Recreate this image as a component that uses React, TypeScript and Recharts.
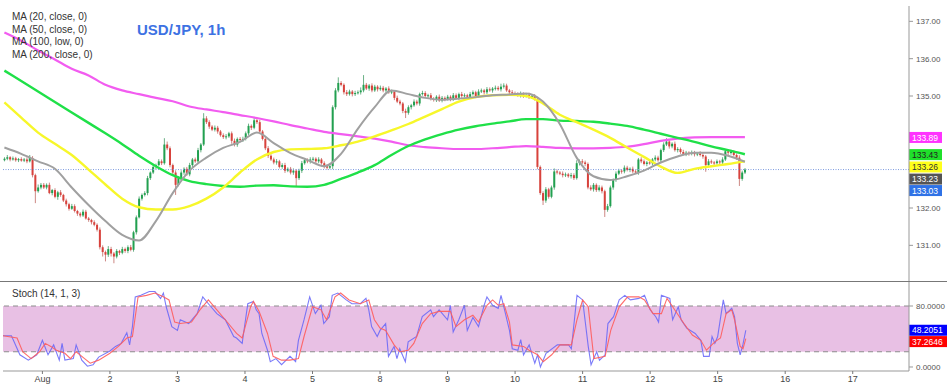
import React from "react";
import {
  ComposedChart,
  Bar,
  Line,
  XAxis,
  YAxis,
  ReferenceLine,
  ReferenceArea,
} from "recharts";

const FONT = '"Liberation Sans", Arial, sans-serif';

// hourly candles, first one starts 14h before Aug 1 00:00
const FIRST_HOUR = -14;
const LAST_HOUR = 308;
const FIRST_OPEN = 133.28;

// closes, one line per trading day (open = previous close)
const closes = [
  133.32, 133.36, 133.3, 133.33, 133.28, 133.31, 133.27, 133.3, 133.25, 133.34, 132.88, 132.45, 132.55, 132.62,
  132.55, 132.62, 132.4, 132.48, 132.3, 132.42, 132.35, 132.2, 132.1, 131.98, 132.05, 131.92, 131.85, 131.8, 131.9, 131.72, 131.68, 131.62, 131.55, 131.42, 130.95, 130.82, 130.75, 130.9,
  130.78, 130.7, 130.85, 130.8, 130.9, 130.85, 130.95, 130.88, 131.35, 131.75, 132.25, 132.35, 132.4, 132.8, 132.95, 133.1, 133.15, 133.25, 133.2, 133.7, 133.6, 133.15, 132.95, 132.62,
  132.8, 132.95, 133.05, 132.9, 133.15, 133.3, 133.25, 133.55, 133.7, 134.4, 134.3, 134.18, 134.1, 134.15, 134.05, 133.95, 133.9, 133.92, 134.0, 133.8, 133.7, 133.85, 133.82, 133.85,
  134.0, 134.2, 134.15, 134.35, 134.3, 134.05, 133.85, 133.6, 133.4, 133.3, 133.22, 133.25, 133.1, 133.15, 133.0, 133.05, 132.95, 133.0, 132.8, 133.0, 133.2, 133.28, 133.25, 133.3,
  133.32, 133.25, 133.3, 133.2, 133.12, 133.08, 133.12, 134.7, 135.15, 135.35, 135.3, 135.1, 135.05, 135.12, 135.05, 135.08, 135.1, 135.15, 135.3, 135.2, 135.28, 135.15, 135.25, 135.18,
  135.22, 135.15, 135.2, 135.1, 135.12, 134.95, 134.85, 134.8, 134.6, 134.55, 134.7, 134.75, 134.85, 134.8, 135.05, 135.08, 135.0, 135.02, 134.92, 134.9, 134.98, 134.88, 134.95, 134.92,
  134.98, 134.92, 135.02, 134.95, 135.05, 135.0, 135.02, 134.98, 135.05, 135.1, 135.0, 135.12, 135.15, 135.1, 135.18, 135.15, 135.2, 135.22, 135.18, 135.25, 135.28, 135.15, 135.1, 135.08,
  135.05, 135.02, 135.06, 135.0, 135.03, 134.98, 135.0, 134.92, 133.1, 132.4, 132.2, 132.5, 132.3, 132.55, 132.98, 132.95, 132.92, 132.88, 132.9, 132.85, 132.88, 132.8, 133.2, 133.25,
  133.22, 133.18, 132.55, 132.5, 132.62, 132.48, 132.55, 132.45, 131.95, 132.05, 132.55, 132.75, 132.92, 133.0, 132.98, 133.08, 133.02, 133.05, 132.98, 132.95, 133.3, 133.25, 133.18, 133.22,
  133.2, 133.3, 133.35, 133.28, 133.55, 133.7, 133.78, 133.65, 133.72, 133.55, 133.58, 133.5, 133.45, 133.48, 133.45, 133.48, 133.44, 133.46, 133.42, 133.38, 133.15, 133.25, 133.22, 133.2,
  133.25, 133.22, 133.3, 133.52, 133.48, 133.5, 133.42, 133.35, 132.78, 132.95, 133.03,
];

// wick lengths in pips (0.01) above / below the body
const wickUp = [
  4, 6, 3, 5, 4, 3, 5, 4, 6, 8, 5, 4, 8, 5,
  5, 4, 6, 3, 5, 4, 6, 3, 5, 4, 6, 5, 3, 4, 6, 5, 4, 3, 5, 4, 6, 5, 4, 8,
  6, 4, 5, 3, 6, 4, 5, 6, 4, 5, 6, 4, 5, 6, 3, 5, 4, 6, 5, 17, 8, 5, 4, 6,
  5, 6, 4, 5, 6, 4, 5, 6, 4, 14, 6, 5, 4, 6, 5, 4, 5, 6, 4, 5, 6, 4, 5, 6,
  5, 6, 4, 9, 5, 6, 4, 5, 6, 4, 5, 6, 4, 5, 6, 4, 5, 6, 4, 5, 6, 4, 5, 6,
  5, 4, 6, 4, 5, 4, 6, 5, 6, 15, 5, 4, 6, 5, 4, 6, 5, 8, 26, 5, 4, 6, 5, 4,
  6, 5, 4, 6, 5, 4, 6, 5, 4, 6, 5, 4, 6, 5, 4, 6, 5, 4, 6, 5, 4, 6, 5, 4,
  5, 4, 6, 5, 4, 6, 5, 4, 6, 5, 4, 6, 5, 4, 6, 5, 4, 6, 5, 8, 6, 5, 4, 6,
  4, 5, 6, 4, 5, 6, 4, 5, 6, 4, 5, 6, 4, 5, 8, 5, 4, 6, 5, 4, 6, 5, 8, 5,
  6, 5, 4, 6, 5, 4, 6, 5, 4, 6, 5, 4, 6, 5, 4, 6, 5, 4, 6, 5, 4, 6, 5, 4,
  5, 4, 6, 5, 4, 6, 9, 5, 4, 6, 5, 4, 6, 5, 4, 6, 5, 4, 6, 5, 4, 6, 5, 4,
  5, 4, 6, 5, 4, 6, 5, 4, 6, 5, 4,
];
const wickDown = [
  3, 4, 5, 3, 4, 5, 3, 4, 5, 3, 6, 32, 4, 5,
  4, 5, 3, 6, 4, 8, 5, 4, 6, 5, 3, 4, 6, 5, 4, 3, 5, 6, 4, 5, 6, 12, 18, 6,
  8, 18, 5, 6, 4, 5, 6, 4, 5, 6, 3, 5, 4, 6, 5, 4, 6, 3, 5, 4, 5, 6, 8, 27,
  4, 5, 6, 4, 5, 6, 4, 5, 6, 4, 5, 6, 4, 5, 6, 4, 5, 6, 4, 8, 5, 6, 4, 5,
  4, 5, 6, 4, 5, 6, 4, 5, 6, 4, 5, 6, 4, 5, 6, 4, 5, 6, 24, 5, 6, 4, 5, 6,
  4, 6, 5, 4, 6, 5, 4, 8, 6, 5, 4, 6, 5, 4, 6, 5, 4, 6, 5, 4, 6, 5, 4, 6,
  4, 5, 6, 4, 5, 6, 4, 5, 6, 14, 5, 6, 4, 5, 6, 4, 5, 6, 4, 5, 6, 4, 5, 6,
  4, 6, 5, 4, 6, 5, 4, 6, 5, 4, 6, 5, 4, 6, 5, 4, 6, 5, 4, 6, 5, 4, 6, 5,
  5, 4, 6, 5, 4, 6, 5, 4, 6, 5, 12, 6, 5, 4, 6, 5, 4, 6, 5, 4, 6, 5, 4, 6,
  4, 6, 5, 4, 6, 5, 4, 6, 19, 5, 4, 6, 5, 4, 6, 5, 4, 6, 5, 4, 6, 5, 4, 6,
  4, 6, 5, 4, 6, 5, 4, 6, 5, 4, 6, 5, 4, 6, 5, 4, 6, 5, 4, 6, 18, 5, 4, 6,
  4, 6, 5, 4, 6, 5, 4, 6, 19, 5, 4,
];

// moving averages read every 6 hours
const maHours = [
  -14, -8, -2, 4, 10, 16, 22, 28, 34, 40, 46, 52, 58, 64, 70, 76, 82, 88, 94, 100, 106, 112, 118,
  124, 130, 136, 142, 148, 154, 160, 166, 172, 178, 184, 190, 196, 202, 208, 214, 220, 226, 232, 238, 244, 250,
];
const ma20 = [
  133.62, 133.45, 133.25, 133.05, 132.55, 132.08, 131.65, 131.28, 131.13, 131.65,
  132.4, 133.0, 133.35, 133.61, 133.77, 134.02, 133.74, 133.47, 133.29, 133.12,
  133.45, 134.12, 134.7, 135.15, 135.05, 134.95, 134.9, 134.93, 134.97, 135.02,
  135.04, 135.07, 134.85, 134.25, 133.35, 132.85, 132.75, 132.85, 133.0, 133.22,
  133.38, 133.48, 133.48, 133.4, 133.24,
];
const ma50 = [
  134.83, 134.42, 134.02, 133.72, 133.42, 133.03, 132.63, 132.25, 132.02, 131.96,
  131.96, 132.05, 132.25, 132.55, 132.95, 133.3, 133.5, 133.57, 133.58, 133.6,
  133.68, 133.78, 133.92, 134.08, 134.25, 134.45, 134.65, 134.85, 134.97, 135.02,
  135.03, 135.0, 134.8, 134.5, 134.3, 134.1, 133.88, 133.62, 133.37, 133.11,
  132.94, 133.05, 133.12, 133.18, 133.25,
];
const ma100 = [
  135.68, 135.4, 135.12, 134.84, 134.56, 134.28, 134.0, 133.71, 133.4, 133.12,
  132.88, 132.72, 132.64, 132.59, 132.57, 132.6, 132.61, 132.58, 132.57, 132.62,
  132.78, 132.95, 133.15, 133.42, 133.66, 133.84, 133.98, 134.1, 134.19, 134.26,
  134.32, 134.38, 134.38, 134.34, 134.33, 134.31, 134.26, 134.2, 134.1, 133.99,
  133.88, 133.77, 133.65, 133.55, 133.44,
];
const ma200 = [
  136.7, 136.48, 136.22, 135.98, 135.73, 135.55, 135.3, 135.15, 135.05, 134.95,
  134.86, 134.72, 134.64, 134.57, 134.49, 134.41, 134.32, 134.22, 134.13, 134.04,
  133.98, 133.92, 133.86, 133.78, 133.68, 133.63, 133.6, 133.58, 133.58, 133.6,
  133.63, 133.66, 133.64, 133.61, 133.6, 133.6, 133.61, 133.64, 133.71, 133.8,
  133.86, 133.89, 133.9, 133.9, 133.9,
];

// stochastic (14, 1, 3): [hour, value]
const stochK: [number, number][] = [
  [-14, 41], [-11, 41], [-8, 16], [-5, 9], [-2, 16], [0, 35], [2, 16], [4, 29], [6, 9], [7, 31], [8, 9],
  [11, 11], [12, 29], [14, 9], [16, 1], [18, 3], [20, 13], [24, 21], [26, 27], [28, 31], [30, 45], [31, 29],
  [32, 53], [33, 92], [35, 94], [38, 99], [40, 99], [42, 90], [43, 97], [44, 79], [46, 53], [48, 48], [49, 62],
  [52, 57], [55, 70], [57, 92], [59, 83], [62, 70], [65, 62], [68, 40], [69, 38], [71, 31], [73, 83], [75, 86],
  [76, 75], [77, 70], [78, 44], [80, 22], [81, 7], [83, 11], [85, 3], [88, 14], [90, 7], [91, 35], [93, 62],
  [95, 92], [97, 70], [99, 81], [100, 57], [102, 66], [103, 94], [105, 97], [108, 88], [110, 83], [113, 83],
  [115, 90], [116, 75], [117, 53], [119, 40], [120, 48], [122, 57], [123, 14], [125, 27], [126, 11], [127, 24],
  [129, 7], [130, 33], [133, 40], [135, 66], [138, 75], [139, 66], [141, 75], [144, 62], [145, 81], [146, 46],
  [148, 62], [150, 81], [151, 48], [153, 65], [155, 53], [157, 81], [158, 92], [160, 81], [162, 77], [163, 94],
  [164, 79], [166, 48], [167, 24], [169, 22], [170, 36], [171, 16], [173, 29], [175, 5], [176, 16], [177, 0],
  [179, 18], [183, 29], [187, 29], [188, 24], [190, 94], [192, 88], [194, 27], [195, 3], [197, 20], [198, 9],
  [200, 16], [201, 57], [203, 66], [205, 88], [207, 94], [209, 88], [212, 90], [214, 94], [216, 75], [218, 66],
  [219, 59], [220, 94], [223, 90], [224, 62], [226, 79], [227, 62], [229, 51], [232, 44], [234, 35], [235, 14],
  [237, 14], [238, 40], [239, 31], [240, 40], [242, 88], [243, 70], [245, 77], [246, 66], [247, 31], [248, 16],
  [249, 30], [250, 48.21],
];
const stochD: [number, number][] = [
  [-14, 41], [-9, 38], [-7, 20], [-4, 11], [-1, 20], [1, 31], [3, 27], [5, 22], [8, 18], [10, 11], [12, 20],
  [15, 11], [17, 5], [20, 9], [24, 18], [27, 27], [30, 38], [32, 40], [34, 92], [37, 94], [40, 97], [43, 92],
  [45, 88], [47, 59], [49, 57], [53, 59], [56, 75], [59, 88], [62, 75], [65, 62], [69, 44], [71, 38], [74, 79],
  [75, 86], [77, 73], [80, 44], [82, 14], [85, 9], [88, 9], [91, 11], [93, 40], [96, 79], [99, 75], [101, 62],
  [104, 92], [106, 97], [109, 88], [113, 83], [116, 88], [118, 62], [120, 51], [122, 48], [125, 29], [127, 20],
  [130, 22], [132, 31], [135, 57], [138, 70], [141, 73], [145, 73], [147, 53], [150, 62], [153, 68], [155, 59],
  [158, 81], [160, 88], [162, 81], [164, 83], [166, 59], [167, 29], [171, 27], [173, 22], [176, 16], [178, 7],
  [181, 16], [184, 29], [188, 29], [190, 62], [192, 88], [194, 79], [196, 11], [200, 14], [202, 48], [205, 79],
  [208, 92], [212, 92], [214, 88], [217, 70], [220, 70], [222, 90], [224, 79], [228, 57], [231, 42], [234, 35],
  [236, 22], [239, 33], [241, 38], [243, 70], [245, 75], [246, 62], [248, 27], [249, 24], [250, 37.26],
];

const dayTicks = [0, 24, 48, 72, 96, 120, 144, 168, 192, 216, 240, 264, 288];
const dayLabels = ["Aug", "2", "3", "4", "5", "8", "9", "10", "11", "12", "15", "16", "17"];
const priceTicks = [131, 132, 135, 136, 137];
const stochTicks = [0, 80];

const legendLines = ["MA (20, close, 0)", "MA (50, close, 0)", "MA (100, low, 0)", "MA (200, close, 0)"];
const priceBadgeValues = [133.89, 133.43, 133.26, 133.23, 133.03];
const stochBadgeValues = [48.2051, 37.2646];

// build rows: one per hour slot, including the empty future hours
const rows: any[] = [];
for (let t = FIRST_HOUR; t <= LAST_HOUR; t++) rows.push({ t });
closes.forEach((c, i) => {
  const open = i === 0 ? FIRST_OPEN : closes[i - 1];
  const high = Math.max(open, c) + (wickUp[i] ?? 0) / 100;
  const low = Math.min(open, c) - (wickDown[i] ?? 0) / 100;
  Object.assign(rows[i], { open, close: c, high, low, range: [low, high] });
});
maHours.forEach((h, j) => {
  Object.assign(rows[h - FIRST_HOUR], { ma20: ma20[j], ma50: ma50[j], ma100: ma100[j], ma200: ma200[j] });
});
stochK.forEach(([h, v]) => (rows[h - FIRST_HOUR].k = v));
stochD.forEach(([h, v]) => (rows[h - FIRST_HOUR].d = v));

function Candle(props: any) {
  const { x, y, width, height, payload } = props;
  if (!payload || payload.close == null) return null;
  const { open, close, high, low } = payload;
  const cx = x + width / 2;
  const span = high - low || 1;
  const py = (v: number) => y + ((high - v) / span) * height;
  const up = close >= open;
  const color = up ? "#22a050" : "#d8423c";
  const top = py(Math.max(open, close));
  const bot = py(Math.min(open, close));
  return (
    <g>
      <line x1={cx} x2={cx} y1={y} y2={y + height} stroke={up ? "#5aa878" : "#c77a76"} strokeWidth={0.9} />
      <rect x={cx - 1} y={top} width={2} height={Math.max(1, bot - top)} fill={color} />
    </g>
  );
}

// price tag drawn right of the axis
function badge(text: string, bg: string, fg: string, nudge: number, w: number) {
  return (props: any) => {
    const vb = props.viewBox || {};
    const x = (vb.x ?? 0) + (vb.width ?? 0);
    const y = (vb.y ?? 0) + nudge;
    return (
      <g>
        <rect x={x} y={y - 5.5} width={w} height={11} fill={bg} />
        <text x={x + 3} y={y + 3.2} fontSize={8.5} fill={fg} fontFamily={FONT}>
          {text}
        </text>
      </g>
    );
  };
}

const priceBadgeStyle = [
  { bg: "#ff33ff", fg: "#ffffff", nudge: 0 },
  { bg: "#1fe02a", fg: "#222222", nudge: 0 },
  { bg: "#ffff1a", fg: "#333333", nudge: 6 },
  { bg: "#555555", fg: "#ffffff", nudge: 17 },
  { bg: "#2f72e6", fg: "#ffffff", nudge: 21 },
];
const stochBadgeStyle = [
  { bg: "#0000ff", fg: "#ffffff", nudge: 0 },
  { bg: "#ff0000", fg: "#ffffff", nudge: 3 },
];

export default function App() {
  const lastClose = closes[closes.length - 1];
  return (
    <div
      style={{
        position: "absolute",
        left: 0,
        top: 0,
        width: 950,
        height: 387,
        background: "#fff",
        overflow: "hidden",
        fontFamily: FONT,
      }}
    >
      {/* main price panel */}
      <div style={{ position: "absolute", left: 0, top: 0 }}>
        <ComposedChart
          width={950}
          height={282}
          data={rows}
          margin={{ top: 6, right: 0, bottom: 0, left: 3 }}
          barCategoryGap={0}
        >
          <XAxis dataKey="t" type="category" hide />
          <YAxis
            orientation="right"
            width={41}
            domain={[130.018, 137.411]}
            allowDataOverflow
            ticks={priceTicks}
            tickFormatter={(v: number) => v.toFixed(2)}
            tick={{ fontSize: 8, fill: "#555", fontFamily: FONT }}
            tickSize={4}
            tickMargin={3}
            axisLine={{ stroke: "#999" }}
            tickLine={{ stroke: "#999" }}
          />
          <ReferenceLine y={lastClose} stroke="#7f9ce0" strokeDasharray="1 1.5" />
          <Line dataKey="ma200" type="monotone" stroke="#f25cf0" strokeWidth={2.2} dot={false} connectNulls isAnimationActive={false} />
          <Line dataKey="ma100" type="monotone" stroke="#1fe048" strokeWidth={2.4} dot={false} connectNulls isAnimationActive={false} />
          <Line dataKey="ma50" type="monotone" stroke="#f7f72a" strokeWidth={2.4} dot={false} connectNulls isAnimationActive={false} />
          <Line dataKey="ma20" type="monotone" stroke="#a0a0a0" strokeWidth={2} dot={false} connectNulls isAnimationActive={false} />
          <Bar dataKey="range" shape={<Candle />} isAnimationActive={false} />
          {priceBadgeValues.map((v, i) => (
            <ReferenceLine
              key={"pb" + i}
              y={v}
              stroke="none"
              label={badge(
                v.toFixed(2),
                priceBadgeStyle[i].bg,
                priceBadgeStyle[i].fg,
                priceBadgeStyle[i].nudge,
                33
              )}
            />
          ))}
        </ComposedChart>
      </div>

      {/* stochastic panel */}
      <div style={{ position: "absolute", left: 0, top: 282 }}>
        <ComposedChart
          width={950}
          height={105}
          data={rows}
          margin={{ top: 0, right: 0, bottom: 0, left: 3 }}
        >
          <XAxis
            dataKey="t"
            type="category"
            ticks={dayTicks}
            interval={0}
            height={16}
            tickFormatter={(t: number) => dayLabels[dayTicks.indexOf(t)] ?? ""}
            tick={{ fontSize: 9, fill: "#444", fontFamily: FONT }}
            tickSize={3}
            tickMargin={2}
            axisLine={{ stroke: "#999" }}
            tickLine={{ stroke: "#777" }}
          />
          <YAxis
            orientation="right"
            width={41}
            domain={[-5.25, 111.5]}
            allowDataOverflow
            ticks={stochTicks}
            tickFormatter={(v: number) => v.toFixed(4)}
            tick={{ fontSize: 8, fill: "#555", fontFamily: FONT }}
            tickSize={4}
            tickMargin={3}
            axisLine={{ stroke: "#999" }}
            tickLine={{ stroke: "#999" }}
          />
          <ReferenceArea y1={20} y2={80} fill="#e8c0e4" fillOpacity={1} stroke="none" />
          <ReferenceLine y={80} stroke="#8c8c8c" strokeDasharray="5 4" />
          <ReferenceLine y={20} stroke="#8c8c8c" strokeDasharray="5 4" />
          <Line dataKey="k" type="linear" stroke="#6464f8" strokeOpacity={0.85} strokeWidth={1.1} dot={false} connectNulls isAnimationActive={false} />
          <Line dataKey="d" type="linear" stroke="#ff5c5c" strokeOpacity={0.9} strokeWidth={1.1} dot={false} connectNulls isAnimationActive={false} />
          {stochBadgeValues.map((v, i) => (
            <ReferenceLine
              key={"sb" + i}
              y={v}
              stroke="none"
              label={badge(
                v.toFixed(4),
                stochBadgeStyle[i].bg,
                stochBadgeStyle[i].fg,
                stochBadgeStyle[i].nudge,
                38
              )}
            />
          ))}
        </ComposedChart>
      </div>

      {/* panel separator */}
      <div style={{ position: "absolute", left: 0, top: 281, width: 947, height: 1, background: "#777" }} />

      {/* legend + title */}
      <div style={{ position: "absolute", left: 12, top: 11, fontSize: 10, lineHeight: "12.6px", color: "#333" }}>
        {legendLines.map((l) => (
          <div key={l}>{l}</div>
        ))}
      </div>
      <div
        style={{
          position: "absolute",
          left: 137,
          top: 21,
          fontSize: 15,
          lineHeight: "17px",
          fontWeight: "bold",
          color: "#3d72e3",
        }}
      >
        USD/JPY, 1h
      </div>
      <div style={{ position: "absolute", left: 12, top: 288, fontSize: 10, lineHeight: "12px", color: "#333" }}>
        Stoch (14, 1, 3)
      </div>
    </div>
  );
}
